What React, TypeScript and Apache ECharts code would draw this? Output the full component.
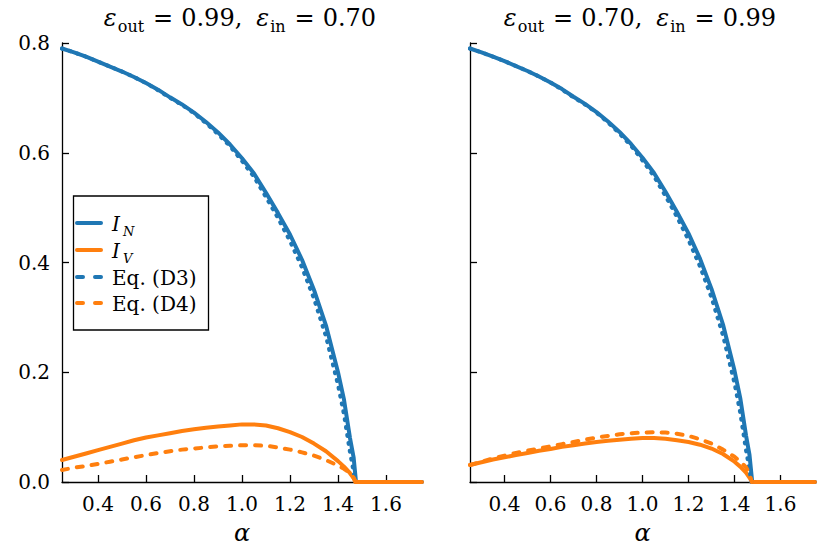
import React, { useEffect, useRef } from "react";
import * as echarts from "echarts";

// ---- data ----
const ALPHA = [
  0.25, 0.3, 0.35, 0.4, 0.45, 0.5, 0.55, 0.6, 0.65, 0.7, 0.75, 0.8, 0.85, 0.9,
  0.95, 1.0, 1.05, 1.1, 1.15, 1.2, 1.25, 1.3, 1.35, 1.4, 1.425, 1.45, 1.465,
];
const ALPHA_MAX = 1.75;
const X_TICKS = [0.4, 0.6, 0.8, 1.0, 1.2, 1.4, 1.6];

// left panel: eps_out = 0.99, eps_in = 0.70
const IN_LEFT = [
  0.79, 0.783, 0.775, 0.766, 0.757, 0.748, 0.738, 0.727, 0.715, 0.701, 0.688,
  0.673, 0.656, 0.637, 0.615, 0.59, 0.562, 0.527, 0.49, 0.451, 0.405, 0.35,
  0.285, 0.2, 0.15, 0.08, 0.045,
];
const IV_LEFT = [
  0.04, 0.046, 0.052, 0.058, 0.064, 0.07, 0.076, 0.081, 0.085, 0.089, 0.093,
  0.096, 0.099, 0.101, 0.103, 0.105, 0.105, 0.103, 0.098, 0.091, 0.082, 0.07,
  0.056, 0.038, 0.028, 0.016, 0.007,
];
const D3_LEFT = [
  0.79, 0.783, 0.775, 0.766, 0.757, 0.748, 0.738, 0.727, 0.714, 0.7, 0.687,
  0.672, 0.654, 0.634, 0.612, 0.585, 0.556, 0.519, 0.481, 0.439, 0.391, 0.334,
  0.265, 0.177, 0.123, 0.054, 0.019,
];
const D4_LEFT = [
  0.022, 0.026, 0.029, 0.033, 0.037, 0.041, 0.045, 0.049, 0.053, 0.056, 0.059,
  0.061, 0.063, 0.065, 0.066, 0.067, 0.067, 0.066, 0.063, 0.059, 0.054, 0.048,
  0.04, 0.03, 0.024, 0.016, 0.008,
];
const ZERO_LEFT = { IN: 1.475, IV: 1.475, D3: 1.471, D4: 1.472 };

// right panel: eps_out = 0.70, eps_in = 0.99
const IN_RIGHT = [
  0.79, 0.783, 0.775, 0.767, 0.758, 0.749, 0.739, 0.728, 0.716, 0.702, 0.689,
  0.674, 0.657, 0.638, 0.616, 0.591, 0.563, 0.529, 0.492, 0.453, 0.407, 0.352,
  0.287, 0.203, 0.153, 0.085, 0.05,
];
const IV_RIGHT = [
  0.031, 0.036, 0.041, 0.045, 0.049, 0.053, 0.057, 0.06, 0.064, 0.067, 0.07,
  0.073, 0.075, 0.077, 0.079, 0.08, 0.08, 0.079, 0.076, 0.073, 0.068, 0.061,
  0.051, 0.037, 0.028, 0.017, 0.008,
];
const D3_RIGHT = [
  0.79, 0.783, 0.775, 0.767, 0.758, 0.749, 0.739, 0.728, 0.715, 0.701, 0.688,
  0.673, 0.655, 0.635, 0.613, 0.586, 0.557, 0.521, 0.483, 0.441, 0.393, 0.336,
  0.267, 0.18, 0.126, 0.058, 0.023,
];
const D4_RIGHT = [
  0.031, 0.037, 0.043, 0.048, 0.053, 0.057, 0.061, 0.065, 0.069, 0.073, 0.077,
  0.081, 0.084, 0.087, 0.089, 0.09, 0.091, 0.09, 0.088, 0.084, 0.078, 0.07,
  0.059, 0.046, 0.037, 0.027, 0.016,
];
const ZERO_RIGHT = { IN: 1.477, IV: 1.477, D3: 1.473, D4: 1.475 };

const BLUE = "#1f77b4";
const ORANGE = "#ff7f0e";
const FONT = "DejaVu Serif";

function build(values: number[], zeroAt: number, tail: boolean): number[][] {
  const d = ALPHA.map((a, i) => [a, values[i]]);
  d.push([zeroAt, 0]);
  if (tail) d.push([ALPHA_MAX, 0]);
  return d;
}

function lineSeries(
  name: string,
  data: number[][],
  color: string,
  idx: number,
  type: any,
  z: number
) {
  return {
    name,
    type: "line",
    xAxisIndex: idx,
    yAxisIndex: idx,
    data,
    showSymbol: false,
    symbol: "none",
    clip: false,
    z,
    itemStyle: { color },
    lineStyle: { color, width: 4, type, cap: "round", join: "round" },
  };
}

const DOT: number[] = [1, 7];
const DASH: number[] = [6, 9];

type Part = { t: string; size: number; italic?: boolean; dy?: number; gap?: number };

let measureCtx: CanvasRenderingContext2D | null = null;
function measure(p: Part): number {
  if (!measureCtx) measureCtx = document.createElement("canvas").getContext("2d");
  if (!measureCtx) return p.t.length * p.size * 0.6;
  measureCtx.font = `${p.italic ? "italic " : ""}${p.size}px "${FONT}"`;
  return measureCtx.measureText(p.t).width;
}

// lays out a math-like line (base text + subscripts) on a common baseline
function mathLine(x0: number, baseline: number, parts: Part[], center: boolean) {
  const widths = parts.map(measure);
  const total = parts.reduce((s, p, i) => s + (p.gap || 0) + widths[i], 0);
  let x = center ? x0 - total / 2 : x0;
  return parts.map((p, i) => {
    x += p.gap || 0;
    const el = {
      type: "text",
      x,
      y: baseline + (p.dy || 0) - 0.3 * p.size,
      z: 100,
      style: {
        text: p.t,
        fontFamily: FONT,
        fontSize: p.size,
        fontStyle: p.italic ? "italic" : "normal",
        fill: "#000",
        align: "left",
        verticalAlign: "middle",
      },
    };
    x += widths[i];
    return el;
  });
}

function titleParts(a: string, b: string): Part[] {
  return [
    { t: "ε", size: 24, italic: true },
    { t: "out", size: 16, dy: 6.5, gap: 1 },
    { t: "=", size: 24, gap: 9 },
    { t: a + ",", size: 24, gap: 8 },
    { t: "ε", size: 24, italic: true, gap: 14 },
    { t: "in", size: 16, dy: 6.5, gap: 1 },
    { t: "=", size: 24, gap: 9 },
    { t: b, size: 24, gap: 8 },
  ];
}

const LEG_ROWS = [
  { y: 223, color: BLUE, dash: null as any, main: "I", sub: "N" },
  { y: 250, color: ORANGE, dash: null as any, main: "I", sub: "V" },
  { y: 277, color: BLUE, dash: [6, 12], main: "Eq. (D3)", sub: "" },
  { y: 303, color: ORANGE, dash: [6, 12], main: "Eq. (D4)", sub: "" },
];

function legendGraphic() {
  const children: any[] = [
    {
      type: "rect",
      shape: { x: 73.5, y: 196, width: 135, height: 134 },
      style: { fill: "#fff", stroke: "#000", lineWidth: 1.3 },
    },
  ];
  LEG_ROWS.forEach((r) => {
    children.push({
      type: "line",
      shape: { x1: 77, y1: r.y, x2: 101, y2: r.y },
      style: { stroke: r.color, lineWidth: 4, lineCap: "round", lineDash: r.dash || undefined },
    });
    const parts: Part[] = r.sub
      ? [
          { t: r.main, size: 20, italic: true },
          { t: r.sub, size: 13, italic: true, dy: 5, gap: 3 },
        ]
      : [{ t: r.main, size: 20 }];
    mathLine(112, r.y + 7, parts, false).forEach((el) => children.push(el));
  });
  return { type: "group", z: 100, children };
}

function xAxis(idx: number) {
  return {
    type: "value",
    gridIndex: idx,
    min: 0.25,
    max: ALPHA_MAX,
    name: "α",
    nameLocation: "middle",
    nameGap: 39,
    nameTextStyle: { fontFamily: FONT, fontStyle: "italic", fontSize: 24, color: "#000" },
    axisLine: { show: true, onZero: false, lineStyle: { color: "#000", width: 1.3 } },
    axisTick: { show: true, inside: true, length: 7, customValues: X_TICKS, lineStyle: { color: "#000", width: 1.3 } },
    axisLabel: {
      customValues: X_TICKS,
      formatter: (v: number) => v.toFixed(1),
      fontFamily: FONT,
      fontSize: 20,
      color: "#000",
      margin: 12,
    },
    splitLine: { show: false },
  };
}

function yAxis(idx: number) {
  return {
    type: "value",
    gridIndex: idx,
    min: 0,
    max: 0.8,
    interval: 0.2,
    axisLine: { show: true, onZero: false, lineStyle: { color: "#000", width: 1.3 } },
    axisTick: { show: true, inside: true, length: 7, lineStyle: { color: "#000", width: 1.3 } },
    axisLabel: {
      show: idx === 0,
      formatter: (v: number) => v.toFixed(1),
      fontFamily: FONT,
      fontSize: 20,
      color: "#000",
      margin: 12,
    },
    splitLine: { show: false },
  };
}

export default function App() {
  const ref = useRef<HTMLDivElement>(null);
  useEffect(() => {
    document.body.style.margin = "0";
    const chart = echarts.init(ref.current!, null, { renderer: "svg" });
    const option: any = {
      animation: false,
      backgroundColor: "#fff",
      grid: [
        { left: 62, top: 43, width: 360, height: 439, containLabel: false, outerBoundsMode: "none" },
        { left: 470, top: 43, width: 345, height: 439, containLabel: false, outerBoundsMode: "none" },
      ],
      xAxis: [xAxis(0), xAxis(1)],
      yAxis: [yAxis(0), yAxis(1)],
      series: [
        lineSeries("I_N", build(IN_LEFT, ZERO_LEFT.IN, true), BLUE, 0, "solid", 2),
        lineSeries("I_V", build(IV_LEFT, ZERO_LEFT.IV, true), ORANGE, 0, "solid", 3),
        lineSeries("Eq. (D3)", build(D3_LEFT, ZERO_LEFT.D3, false), BLUE, 0, DOT, 4),
        lineSeries("Eq. (D4)", build(D4_LEFT, ZERO_LEFT.D4, false), ORANGE, 0, DASH, 5),
        lineSeries("I_N", build(IN_RIGHT, ZERO_RIGHT.IN, true), BLUE, 1, "solid", 2),
        lineSeries("I_V", build(IV_RIGHT, ZERO_RIGHT.IV, true), ORANGE, 1, "solid", 3),
        lineSeries("Eq. (D3)", build(D3_RIGHT, ZERO_RIGHT.D3, false), BLUE, 1, DOT, 4),
        lineSeries("Eq. (D4)", build(D4_RIGHT, ZERO_RIGHT.D4, false), ORANGE, 1, DASH, 5),
      ],
      graphic: [
        { type: "group", children: mathLine(240, 25, titleParts("0.99", "0.70"), true) },
        { type: "group", children: mathLine(640, 25, titleParts("0.70", "0.99"), true) },
        legendGraphic(),
      ],
    };
    chart.setOption(option);
    return () => chart.dispose();
  }, []);
  return <div ref={ref} style={{ width: 830, height: 554 }} />;
}
